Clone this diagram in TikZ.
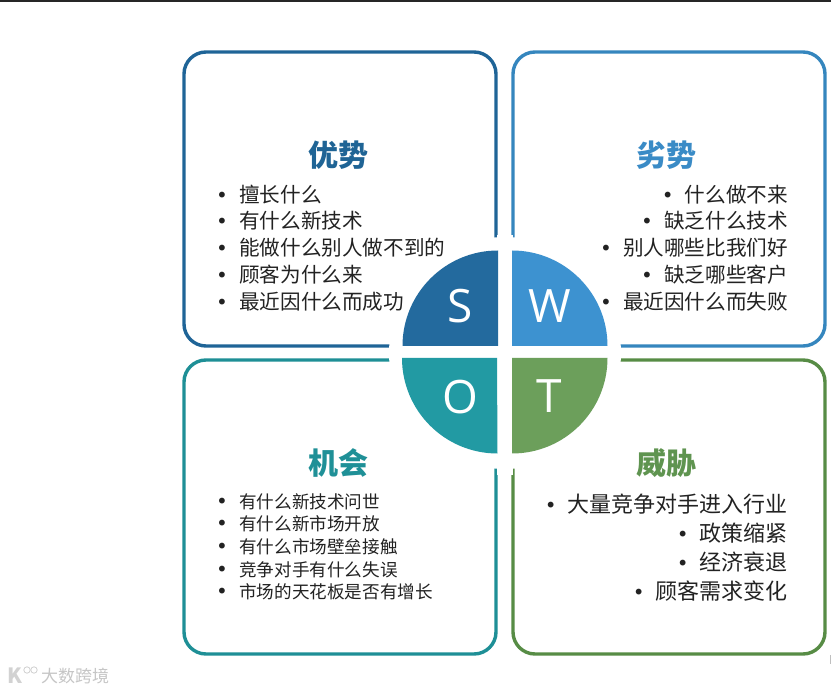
\documentclass[tikz,border=0pt]{standalone}
\usepackage{fontspec}
\setmainfont{Noto Sans CJK SC}
\newfontfamily\letterfont{Open Sans}
\newfontfamily\blfont{DejaVu Sans}
\newcommand{\bl}{\makebox[23pt][l]{\blfont\fontsize{20}{20}\selectfont •}}
\definecolor{cS}{HTML}{236A9E}
\definecolor{cW}{HTML}{3D92D0}
\definecolor{cO}{HTML}{229AA3}
\definecolor{cT}{HTML}{6C9F5B}
\definecolor{bS}{HTML}{1F6497}
\definecolor{bW}{HTML}{3586BE}
\definecolor{bO}{HTML}{1E8F96}
\definecolor{bT}{HTML}{578C45}
\definecolor{tS}{HTML}{1F6495}
\definecolor{tW}{HTML}{3A8BC6}
\definecolor{tO}{HTML}{1F9097}
\definecolor{tT}{HTML}{5F9450}
\definecolor{ink}{HTML}{222222}
\tikzset{
  panel/.style={draw=#1,line width=3.4pt,rounded corners=22pt,minimum width=312pt,minimum height=294pt,inner sep=0pt,fill=white},
  title/.style={font=\fontsize{30}{32}\selectfont\bfseries,text=#1,inner sep=0pt},
  listS/.style={font=\fontsize{20.6}{26.8}\selectfont,text=ink,inner sep=0pt},
  listO/.style={font=\fontsize{17.6}{22.7}\selectfont,text=ink,inner sep=0pt},
  listT/.style={font=\fontsize{22}{29}\selectfont,text=ink,inner sep=0pt},
  letter/.style={font=\letterfont\fontsize{46}{48}\selectfont,text=white,inner sep=0pt},
  wedge/.style={fill=#1,draw=none},
  wmark/.style={font=\fontsize{17}{18}\selectfont,text=gray!45,inner sep=0pt}
}
\begin{document}
\begin{tikzpicture}[x=1pt,y=-1pt]
\useasboundingbox (0,0) rectangle (831,692);
\fill[white] (0,0) rectangle (831,692);
\fill[black!85] (0,0) rectangle (831,2);
\fill[gray!50] (829.5,655) rectangle (831,664);
% panels
\node[panel=bS] (pS) at (340,199) {};
\node[panel=bW] (pW) at (669,199) {};
\node[panel=bO] (pO) at (340,507) {};
\node[panel=bT] (pT) at (669,507) {};
% halo and cross
\fill[white] (505,353) circle (116);
\fill[white] (496.5,235) rectangle (512.5,360);
\fill[white] (496.5,345) rectangle (512.5,475);
% wedges
\fill[wedge=cS] (498,346) -- (402.5,346) arc[start angle=180,end angle=270,radius=95.5] -- cycle;
\fill[wedge=cW] (512,346) -- (512,250.5) arc[start angle=270,end angle=360,radius=95.5] -- cycle;
\fill[wedge=cO] (497,358) -- (402,358) arc[start angle=180,end angle=90,radius=95.5] -- cycle;
\fill[wedge=cT] (512,358) -- (607.5,358) arc[start angle=0,end angle=90,radius=95.5] -- cycle;
\node[letter] (lS) at (460,306) {S};
\node[letter] (lW) at (550,306) {W};
\node[letter] (lO) at (460,397) {O};
\node[letter] (lT) at (549,396) {T};
% titles
\node[title=tS] (tiS) at (338,155) {优势};
\node[title=tW] (tiW) at (666,155) {劣势};
\node[title=tO] (tiO) at (338,463) {机会};
\node[title=tT] (tiT) at (666,463) {威胁};
% lists
\node[listS,align=left,anchor=north west] (liS) at (216,184.5) {\bl{}擅长什么\\\bl{}有什么新技术\\\bl{}能做什么别人做不到的\\\bl{}顾客为什么来\\\bl{}最近因什么而成功};
\node[listS,align=right,anchor=north east] (liW) at (788,184.5) {\bl{}什么做不来\\\bl{}缺乏什么技术\\\bl{}别人哪些比我们好\\\bl{}缺乏哪些客户\\\bl{}最近因什么而失败};
\node[listO,align=left,anchor=north west] (liO) at (216,493) {\bl{}有什么新技术问世\\\bl{}有什么新市场开放\\\bl{}有什么市场壁垒接触\\\bl{}竞争对手有什么失误\\\bl{}市场的天花板是否有增长};
\node[listT,align=right,anchor=north east] (liT) at (788,494) {\bl{}大量竞争对手进入行业\\\bl{}政策缩紧\\\bl{}经济衰退\\\bl{}顾客需求变化};
% watermark
\node[wmark,anchor=west] (wm) at (41,676) {大数跨境};
\node[font=\fontsize{21}{22}\selectfont\bfseries,text=gray!35,inner sep=0pt] (wk) at (15,676) {K};
\draw[gray!35,line width=.8pt] (27,670) circle (3.2);
\draw[gray!35,line width=.8pt] (34,670) circle (3.2);
\end{tikzpicture}
\end{document}
